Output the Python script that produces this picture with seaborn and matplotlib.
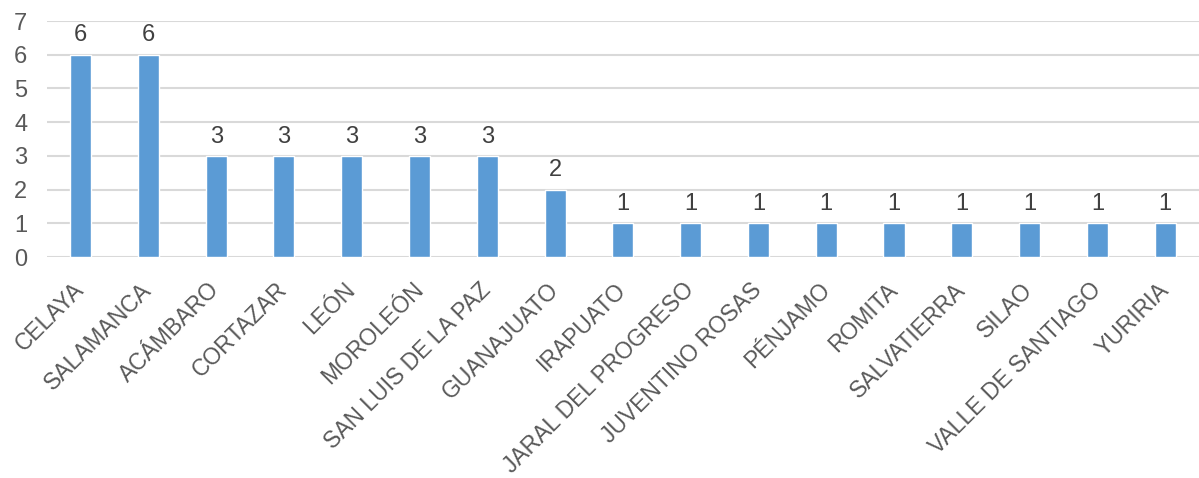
import matplotlib
matplotlib.use("Agg")
import pandas as pd
import seaborn as sns
import matplotlib.pyplot as plt

municipios = ['CELAYA', 'SALAMANCA', 'ACÁMBARO', 'CORTAZAR', 'LEÓN', 'MOROLEÓN',
              'SAN LUIS DE LA PAZ', 'GUANAJUATO', 'IRAPUATO', 'JARAL DEL PROGRESO',
              'JUVENTINO ROSAS', 'PÉNJAMO', 'ROMITA', 'SALVATIERRA', 'SILAO',
              'VALLE DE SANTIAGO', 'YURIRIA']
conteo = [6, 6, 3, 3, 3, 3, 3, 2, 1, 1, 1, 1, 1, 1, 1, 1, 1]

df = pd.DataFrame({'municipio': municipios, 'conteo': conteo})

sns.set_style('white')
plt.rcParams['font.family'] = ['Liberation Sans', 'DejaVu Sans']

fig = plt.figure(figsize=(11.99, 4.78), dpi=100)
ax = fig.add_axes([0.039, 0.462, 0.961, 0.494])

sns.barplot(x='municipio', y='conteo', data=df, color='#5B9BD5',
            width=0.31, saturation=1, ax=ax)

ax.set_ylim(0, 7)
ax.set_xlim(-0.5, len(municipios) - 0.5)
ax.set_yticks(range(0, 8))
ax.yaxis.grid(True, color='#d9d9d9', linewidth=1.5)
ax.set_axisbelow(True)
for s in ax.spines.values():
    s.set_visible(False)
ax.set_xlabel('')
ax.set_ylabel('')

ax.tick_params(axis='y', length=0, labelsize=17, labelcolor='#595959', pad=14)
ax.tick_params(axis='x', length=0, labelsize=16.5, labelcolor='#595959', pad=21)
plt.setp(ax.get_xticklabels(), rotation=45, ha='right', va='center',
         rotation_mode='anchor')

for c in ax.containers:
    ax.bar_label(c, fontsize=17, color='#404040', padding=6)

fig.savefig('out.png', dpi=100)
